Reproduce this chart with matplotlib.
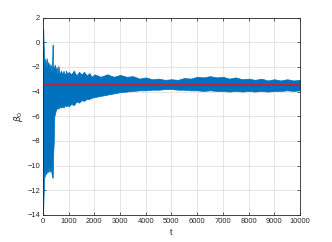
import numpy as np
import matplotlib
matplotlib.use('Agg')
import matplotlib.pyplot as plt

# envelope of the beta_0 trace (upper / lower edge)
t = [0, 10, 30, 40, 50, 70, 100, 120, 150, 170, 200, 220, 250, 270, 300, 330,
     350, 370, 380, 390, 400, 420, 440, 470, 500, 530, 560, 600, 650, 700, 750,
     800, 850, 900, 950, 1000,
     1100, 1200, 1300, 1400, 1500, 1600, 1700, 1800, 1900, 2000,
     2250, 2500, 2750, 3000, 3250, 3500, 3750, 4000, 4250, 4500, 4750, 5000,
     5250, 5500, 5750, 6000, 6250, 6500, 6750, 7000, 7250, 7500, 7750, 8000,
     8250, 8500, 8750, 9000, 9250, 9500, 9750, 10000]
beta_hi = [1.1, 1.1, -0.5, -1.2, -2.0, -1.3, -2.2, -1.5, -1.3, -2.0, -1.6, -2.2,
           -1.7, -2.3, -1.8, -2.4, -2.0, -0.2, -0.2, -2.0, -2.3, -1.9, -2.5, -1.8,
           -2.4, -2.0, -2.6, -1.9, -2.6, -2.3, -2.6, -2.3, -2.7, -2.3, -2.6, -2.4,
           -2.6, -2.3, -2.7, -2.4, -2.6, -2.4, -2.7, -2.5, -2.8, -2.6,
           -2.8, -2.6, -2.8, -2.65, -2.8, -2.75, -2.95, -2.85, -3.0, -2.95, -3.05,
           -3.0, -3.05, -2.9, -2.95, -2.8, -2.85, -2.75, -2.85, -2.8, -2.95, -2.85,
           -3.0, -2.95, -3.05, -2.95, -3.1, -3.0, -3.1, -3.0, -3.1, -3.05]
beta_lo = [-14.0, -13.5, -12.0, -11.0, -10.6, -10.9, -10.3, -10.7, -10.2, -10.6,
           -10.3, -10.5, -10.1, -10.5, -10.2, -10.6, -10.9, -11.0, -10.9, -10.2,
           -8.9, -8.0, -6.0, -5.8, -5.5, -5.4, -5.3, -5.4, -5.2, -5.3, -5.2, -5.3,
           -5.1, -5.2, -5.1, -5.2,
           -5.0, -5.1, -4.8, -4.9, -4.7, -4.75, -4.6, -4.6, -4.5, -4.45,
           -4.35, -4.25, -4.15, -4.05, -4.0, -3.95, -3.9, -3.9, -3.85, -3.85, -3.8,
           -3.8, -3.85, -3.85, -3.9, -3.9, -3.95, -3.9, -3.95, -3.95, -4.0, -3.95,
           -4.0, -3.95, -4.0, -3.95, -4.0, -3.95, -3.95, -3.9, -3.95, -3.9]
beta_true = -3.5

xticks = np.arange(0, 10001, 1000)
yticks = np.arange(-14, 3, 2)

gray = '#262626'
plt.rcParams['font.family'] = ['Liberation Sans', 'DejaVu Sans']

fig = plt.figure(figsize=(3.32, 2.42), dpi=100)
ax = fig.add_axes([0.1295, 0.1116, 0.774, 0.816])

ax.fill_between(t, beta_lo, beta_hi, color='#0072BD', lw=0.5, ec='#0072BD')
ax.plot([t[0], t[-1]], [beta_true, beta_true], color='#EE1111', lw=1.1)

ax.set_xlim(0, 10000)
ax.set_ylim(-14, 2)
ax.set_xticks(xticks)
ax.set_yticks(yticks)
ax.grid(True, color='#dcdcdc', lw=0.5)
ax.set_axisbelow(True)
ax.tick_params(direction='in', length=2.5, width=0.5, labelsize=5.4,
               colors=gray, top=True, right=True, pad=2)
for s in ax.spines.values():
    s.set_color(gray)
    s.set_linewidth(0.6)

ax.set_xlabel('t', fontsize=6.5, color=gray, labelpad=2)
ax.set_ylabel(r'$\beta_0$', fontsize=6.5, color=gray, labelpad=2)

plt.savefig('out.png', dpi=100)
